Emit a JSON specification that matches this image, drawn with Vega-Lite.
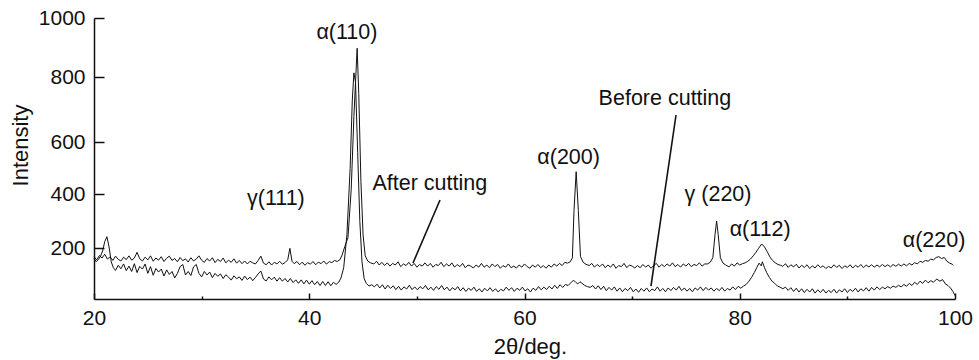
{
  "$schema": "https://vega.github.io/schema/vega-lite/v6.json",
  "width": 861,
  "height": 281,
  "autosize": "none",
  "padding": {"left": 94, "top": 18, "right": 24, "bottom": 61},
  "background": "white",
  "config": {
    "view": {"stroke": null},
    "font": "Liberation Sans",
    "axis": {
      "grid": false,
      "domainColor": "#111",
      "domainWidth": 1.5,
      "tickColor": "#111",
      "tickWidth": 1.5,
      "labelColor": "#111",
      "labelFont": "Liberation Sans",
      "labelFontSize": 21,
      "titleColor": "#111",
      "titleFont": "Liberation Sans",
      "titleFontSize": 22,
      "titleFontWeight": "normal"
    }
  },
  "encoding": {
    "x": {
      "field": "x",
      "type": "quantitative",
      "scale": {"domain": [20, 100], "nice": false, "zero": false},
      "axis": {
        "title": "2θ/deg.",
        "values": [20, 30, 40, 50, 60, 70, 80, 90, 100],
        "labelExpr": "datum.value % 20 === 0 ? datum.label : ''",
        "tickSize": {"condition": {"test": "datum.value % 20 === 0", "value": -6}, "value": -3},
        "labelPadding": 14,
        "labelFlush": false,
        "titleX": 436,
        "titleY": 37,
        "titleBaseline": "top"
      }
    },
    "y": {
      "field": "y",
      "type": "quantitative",
      "scale": {"domain": [12, 200, 400, 600, 800, 1000], "range": [281, 230.3, 176.3, 124.3, 59.3, 0], "nice": false, "zero": false},
      "axis": {
        "title": "Intensity",
        "values": [200, 400, 600, 800, 1000],
        "format": "d",
        "tickSize": -10,
        "labelPadding": 19,
        "titleAngle": 270,
        "titleBaseline": "alphabetic",
        "titleX": -67,
        "titleY": 127
      }
    }
  },
  "layer": [
    {
      "data": {"values": [
        {"s":"A","x":20,"y":169},{"s":"A","x":20.25,"y":157},{"s":"A","x":20.5,"y":173},{"s":"A","x":20.75,"y":164},{"s":"A","x":21,"y":178},{"s":"A","x":21.25,"y":160},{"s":"A","x":21.5,"y":168},{"s":"A","x":21.75,"y":155},{"s":"A","x":22,"y":171},{"s":"A","x":22.25,"y":159},{"s":"A","x":22.5,"y":153},{"s":"A","x":22.75,"y":167},{"s":"A","x":23,"y":158},{"s":"A","x":23.25,"y":172},{"s":"A","x":23.5,"y":156},{"s":"A","x":23.75,"y":164},{"s":"A","x":24,"y":185},{"s":"A","x":24.25,"y":161},{"s":"A","x":24.5,"y":153},{"s":"A","x":24.75,"y":167},{"s":"A","x":25,"y":157},{"s":"A","x":25.25,"y":172},{"s":"A","x":25.5,"y":152},{"s":"A","x":25.75,"y":164},{"s":"A","x":26,"y":156},{"s":"A","x":26.25,"y":169},{"s":"A","x":26.5,"y":151},{"s":"A","x":26.75,"y":163},{"s":"A","x":27,"y":171},{"s":"A","x":27.25,"y":155},{"s":"A","x":27.5,"y":162},{"s":"A","x":27.75,"y":150},{"s":"A","x":28,"y":166},{"s":"A","x":28.25,"y":154},{"s":"A","x":28.5,"y":161},{"s":"A","x":28.75,"y":149},{"s":"A","x":29,"y":165},{"s":"A","x":29.25,"y":153},{"s":"A","x":29.5,"y":160},{"s":"A","x":29.75,"y":172},{"s":"A","x":30,"y":156},{"s":"A","x":30.25,"y":148},{"s":"A","x":30.5,"y":162},{"s":"A","x":30.75,"y":153},{"s":"A","x":31,"y":165},{"s":"A","x":31.25,"y":147},{"s":"A","x":31.5,"y":159},{"s":"A","x":31.75,"y":151},{"s":"A","x":32,"y":164},{"s":"A","x":32.25,"y":146},{"s":"A","x":32.5,"y":156},{"s":"A","x":32.75,"y":148},{"s":"A","x":33,"y":161},{"s":"A","x":33.25,"y":145},{"s":"A","x":33.5,"y":155},{"s":"A","x":33.75,"y":143},{"s":"A","x":34,"y":153},{"s":"A","x":34.25,"y":142},{"s":"A","x":34.5,"y":152},{"s":"A","x":34.75,"y":146},{"s":"A","x":35,"y":142},{"s":"A","x":35.25,"y":155},{"s":"A","x":35.5,"y":171},{"s":"A","x":35.75,"y":145},{"s":"A","x":36,"y":139},{"s":"A","x":36.25,"y":150},{"s":"A","x":36.5,"y":138},{"s":"A","x":36.75,"y":148},{"s":"A","x":37,"y":142},{"s":"A","x":37.25,"y":152},{"s":"A","x":37.5,"y":141},{"s":"A","x":37.75,"y":147},{"s":"A","x":38,"y":157},{"s":"A","x":38.2,"y":200},{"s":"A","x":38.4,"y":152},{"s":"A","x":38.6,"y":143},{"s":"A","x":38.85,"y":151},{"s":"A","x":39.1,"y":139},{"s":"A","x":39.35,"y":149},{"s":"A","x":39.6,"y":137},{"s":"A","x":39.85,"y":147},{"s":"A","x":40.1,"y":141},{"s":"A","x":40.35,"y":151},{"s":"A","x":40.6,"y":139},{"s":"A","x":40.85,"y":149},{"s":"A","x":41.1,"y":143},{"s":"A","x":41.35,"y":153},{"s":"A","x":41.6,"y":141},{"s":"A","x":41.85,"y":151},{"s":"A","x":42.1,"y":147},{"s":"A","x":42.35,"y":155},{"s":"A","x":42.6,"y":151},{"s":"A","x":42.85,"y":158},{"s":"A","x":43.05,"y":175},{"s":"A","x":43.3,"y":206},{"s":"A","x":43.6,"y":240},{"s":"A","x":43.9,"y":420},{"s":"A","x":44.15,"y":680},{"s":"A","x":44.45,"y":898},{"s":"A","x":44.6,"y":750},{"s":"A","x":44.8,"y":450},{"s":"A","x":45,"y":250},{"s":"A","x":45.2,"y":172},{"s":"A","x":45.45,"y":152},{"s":"A","x":45.7,"y":146},{"s":"A","x":46,"y":142},{"s":"A","x":46.25,"y":152},{"s":"A","x":46.5,"y":138},{"s":"A","x":46.75,"y":148},{"s":"A","x":47,"y":136},{"s":"A","x":47.25,"y":146},{"s":"A","x":47.5,"y":134},{"s":"A","x":47.75,"y":144},{"s":"A","x":48,"y":138},{"s":"A","x":48.25,"y":150},{"s":"A","x":48.5,"y":132},{"s":"A","x":48.75,"y":142},{"s":"A","x":49,"y":136},{"s":"A","x":49.25,"y":148},{"s":"A","x":49.5,"y":134},{"s":"A","x":49.75,"y":144},{"s":"A","x":50,"y":130},{"s":"A","x":50.25,"y":140},{"s":"A","x":50.5,"y":134},{"s":"A","x":50.75,"y":146},{"s":"A","x":51,"y":134},{"s":"A","x":51.25,"y":144},{"s":"A","x":51.5,"y":130},{"s":"A","x":51.75,"y":140},{"s":"A","x":52,"y":136},{"s":"A","x":52.25,"y":148},{"s":"A","x":52.5,"y":132},{"s":"A","x":52.75,"y":142},{"s":"A","x":53,"y":134},{"s":"A","x":53.25,"y":146},{"s":"A","x":53.5,"y":130},{"s":"A","x":53.75,"y":140},{"s":"A","x":54,"y":132},{"s":"A","x":54.25,"y":144},{"s":"A","x":54.5,"y":128},{"s":"A","x":54.75,"y":138},{"s":"A","x":55,"y":134},{"s":"A","x":55.25,"y":127},{"s":"A","x":55.5,"y":138},{"s":"A","x":55.75,"y":130},{"s":"A","x":56,"y":144},{"s":"A","x":56.25,"y":130},{"s":"A","x":56.5,"y":138},{"s":"A","x":56.75,"y":128},{"s":"A","x":57,"y":142},{"s":"A","x":57.25,"y":132},{"s":"A","x":57.5,"y":140},{"s":"A","x":57.75,"y":126},{"s":"A","x":58,"y":136},{"s":"A","x":58.25,"y":130},{"s":"A","x":58.5,"y":142},{"s":"A","x":58.75,"y":128},{"s":"A","x":59,"y":134},{"s":"A","x":59.25,"y":127},{"s":"A","x":59.5,"y":138},{"s":"A","x":59.75,"y":130},{"s":"A","x":60,"y":142},{"s":"A","x":60.25,"y":132},{"s":"A","x":60.5,"y":126},{"s":"A","x":60.75,"y":138},{"s":"A","x":61,"y":130},{"s":"A","x":61.25,"y":140},{"s":"A","x":61.5,"y":128},{"s":"A","x":61.75,"y":136},{"s":"A","x":62,"y":126},{"s":"A","x":62.25,"y":138},{"s":"A","x":62.5,"y":130},{"s":"A","x":62.75,"y":142},{"s":"A","x":63,"y":134},{"s":"A","x":63.25,"y":144},{"s":"A","x":63.5,"y":136},{"s":"A","x":63.75,"y":148},{"s":"A","x":64,"y":145},{"s":"A","x":64.25,"y":150},{"s":"A","x":64.45,"y":165},{"s":"A","x":64.6,"y":340},{"s":"A","x":64.8,"y":487},{"s":"A","x":65,"y":340},{"s":"A","x":65.2,"y":170},{"s":"A","x":65.45,"y":148},{"s":"A","x":65.7,"y":141},{"s":"A","x":66,"y":136},{"s":"A","x":66.25,"y":144},{"s":"A","x":66.5,"y":130},{"s":"A","x":66.75,"y":140},{"s":"A","x":67,"y":132},{"s":"A","x":67.25,"y":142},{"s":"A","x":67.5,"y":128},{"s":"A","x":67.75,"y":138},{"s":"A","x":68,"y":130},{"s":"A","x":68.25,"y":142},{"s":"A","x":68.5,"y":126},{"s":"A","x":68.75,"y":136},{"s":"A","x":69,"y":132},{"s":"A","x":69.25,"y":144},{"s":"A","x":69.5,"y":128},{"s":"A","x":69.75,"y":138},{"s":"A","x":70,"y":134},{"s":"A","x":70.25,"y":127},{"s":"A","x":70.5,"y":136},{"s":"A","x":70.75,"y":128},{"s":"A","x":71,"y":140},{"s":"A","x":71.25,"y":130},{"s":"A","x":71.5,"y":138},{"s":"A","x":71.75,"y":126},{"s":"A","x":72,"y":136},{"s":"A","x":72.25,"y":144},{"s":"A","x":72.5,"y":130},{"s":"A","x":72.75,"y":140},{"s":"A","x":73,"y":132},{"s":"A","x":73.25,"y":142},{"s":"A","x":73.5,"y":134},{"s":"A","x":73.75,"y":146},{"s":"A","x":74,"y":132},{"s":"A","x":74.25,"y":140},{"s":"A","x":74.5,"y":130},{"s":"A","x":74.75,"y":142},{"s":"A","x":75,"y":134},{"s":"A","x":75.25,"y":144},{"s":"A","x":75.5,"y":132},{"s":"A","x":75.75,"y":140},{"s":"A","x":76,"y":136},{"s":"A","x":76.25,"y":146},{"s":"A","x":76.5,"y":134},{"s":"A","x":76.75,"y":142},{"s":"A","x":77,"y":142},{"s":"A","x":77.25,"y":148},{"s":"A","x":77.5,"y":165},{"s":"A","x":77.7,"y":250},{"s":"A","x":77.85,"y":301},{"s":"A","x":78,"y":250},{"s":"A","x":78.2,"y":165},{"s":"A","x":78.45,"y":145},{"s":"A","x":78.7,"y":138},{"s":"A","x":79,"y":131},{"s":"A","x":79.25,"y":142},{"s":"A","x":79.5,"y":134},{"s":"A","x":79.75,"y":146},{"s":"A","x":80,"y":138},{"s":"A","x":80.25,"y":143},{"s":"A","x":80.5,"y":146},{"s":"A","x":80.75,"y":152},{"s":"A","x":81,"y":160},{"s":"A","x":81.25,"y":172},{"s":"A","x":81.5,"y":185},{"s":"A","x":81.75,"y":200},{"s":"A","x":82.04,"y":216},{"s":"A","x":82.3,"y":205},{"s":"A","x":82.55,"y":188},{"s":"A","x":82.8,"y":168},{"s":"A","x":83.05,"y":155},{"s":"A","x":83.3,"y":146},{"s":"A","x":83.55,"y":140},{"s":"A","x":83.8,"y":137},{"s":"A","x":84,"y":133},{"s":"A","x":84.25,"y":143},{"s":"A","x":84.5,"y":129},{"s":"A","x":84.75,"y":139},{"s":"A","x":85,"y":131},{"s":"A","x":85.25,"y":141},{"s":"A","x":85.5,"y":127},{"s":"A","x":85.75,"y":137},{"s":"A","x":86,"y":129},{"s":"A","x":86.25,"y":139},{"s":"A","x":86.5,"y":125},{"s":"A","x":86.75,"y":135},{"s":"A","x":87,"y":127},{"s":"A","x":87.25,"y":139},{"s":"A","x":87.5,"y":129},{"s":"A","x":87.75,"y":135},{"s":"A","x":88,"y":125},{"s":"A","x":88.25,"y":133},{"s":"A","x":88.5,"y":127},{"s":"A","x":88.75,"y":139},{"s":"A","x":89,"y":129},{"s":"A","x":89.25,"y":137},{"s":"A","x":89.5,"y":125},{"s":"A","x":89.75,"y":135},{"s":"A","x":90,"y":129},{"s":"A","x":90.25,"y":139},{"s":"A","x":90.5,"y":127},{"s":"A","x":90.75,"y":137},{"s":"A","x":91,"y":130},{"s":"A","x":91.25,"y":140},{"s":"A","x":91.5,"y":128},{"s":"A","x":91.75,"y":138},{"s":"A","x":92,"y":131},{"s":"A","x":92.25,"y":139},{"s":"A","x":92.5,"y":130},{"s":"A","x":92.75,"y":138},{"s":"A","x":93,"y":131},{"s":"A","x":93.25,"y":140},{"s":"A","x":93.5,"y":132},{"s":"A","x":93.75,"y":139},{"s":"A","x":94,"y":131},{"s":"A","x":94.25,"y":140},{"s":"A","x":94.5,"y":133},{"s":"A","x":94.75,"y":141},{"s":"A","x":95,"y":134},{"s":"A","x":95.25,"y":142},{"s":"A","x":95.5,"y":135},{"s":"A","x":95.75,"y":144},{"s":"A","x":96,"y":138},{"s":"A","x":96.25,"y":147},{"s":"A","x":96.5,"y":142},{"s":"A","x":96.75,"y":152},{"s":"A","x":97,"y":148},{"s":"A","x":97.25,"y":155},{"s":"A","x":97.5,"y":152},{"s":"A","x":97.75,"y":160},{"s":"A","x":98,"y":157},{"s":"A","x":98.25,"y":166},{"s":"A","x":98.5,"y":169},{"s":"A","x":98.75,"y":162},{"s":"A","x":99,"y":166},{"s":"A","x":99.25,"y":152},{"s":"A","x":99.5,"y":145},{"s":"A","x":99.75,"y":141},{"s":"A","x":99.85,"y":137},
        {"s":"B","x":20,"y":163},{"s":"B","x":20.2,"y":150},{"s":"B","x":20.4,"y":158},{"s":"B","x":20.6,"y":170},{"s":"B","x":20.8,"y":190},{"s":"B","x":21,"y":225},{"s":"B","x":21.2,"y":243},{"s":"B","x":21.4,"y":205},{"s":"B","x":21.6,"y":150},{"s":"B","x":21.8,"y":128},{"s":"B","x":22,"y":118},{"s":"B","x":22.25,"y":137},{"s":"B","x":22.5,"y":124},{"s":"B","x":22.75,"y":142},{"s":"B","x":23,"y":117},{"s":"B","x":23.25,"y":134},{"s":"B","x":23.5,"y":114},{"s":"B","x":23.75,"y":143},{"s":"B","x":24,"y":110},{"s":"B","x":24.25,"y":133},{"s":"B","x":24.5,"y":123},{"s":"B","x":24.75,"y":142},{"s":"B","x":25,"y":107},{"s":"B","x":25.25,"y":132},{"s":"B","x":25.5,"y":100},{"s":"B","x":25.75,"y":125},{"s":"B","x":26,"y":112},{"s":"B","x":26.25,"y":123},{"s":"B","x":26.5,"y":97},{"s":"B","x":26.75,"y":120},{"s":"B","x":27,"y":103},{"s":"B","x":27.25,"y":114},{"s":"B","x":27.5,"y":90},{"s":"B","x":27.75,"y":107},{"s":"B","x":28,"y":132},{"s":"B","x":28.25,"y":140},{"s":"B","x":28.5,"y":101},{"s":"B","x":28.75,"y":114},{"s":"B","x":29,"y":99},{"s":"B","x":29.25,"y":131},{"s":"B","x":29.5,"y":140},{"s":"B","x":29.75,"y":107},{"s":"B","x":30,"y":94},{"s":"B","x":30.25,"y":114},{"s":"B","x":30.5,"y":101},{"s":"B","x":30.75,"y":112},{"s":"B","x":31,"y":91},{"s":"B","x":31.25,"y":107},{"s":"B","x":31.5,"y":96},{"s":"B","x":31.75,"y":105},{"s":"B","x":32,"y":88},{"s":"B","x":32.25,"y":102},{"s":"B","x":32.5,"y":93},{"s":"B","x":32.75,"y":82},{"s":"B","x":33,"y":98},{"s":"B","x":33.25,"y":87},{"s":"B","x":33.5,"y":94},{"s":"B","x":33.75,"y":81},{"s":"B","x":34,"y":97},{"s":"B","x":34.25,"y":84},{"s":"B","x":34.5,"y":93},{"s":"B","x":34.75,"y":80},{"s":"B","x":35,"y":92},{"s":"B","x":35.25,"y":105},{"s":"B","x":35.5,"y":116},{"s":"B","x":35.75,"y":86},{"s":"B","x":36,"y":79},{"s":"B","x":36.25,"y":94},{"s":"B","x":36.5,"y":83},{"s":"B","x":36.75,"y":93},{"s":"B","x":37,"y":78},{"s":"B","x":37.25,"y":91},{"s":"B","x":37.5,"y":78},{"s":"B","x":37.75,"y":88},{"s":"B","x":38,"y":75},{"s":"B","x":38.25,"y":88},{"s":"B","x":38.5,"y":73},{"s":"B","x":38.75,"y":83},{"s":"B","x":39,"y":70},{"s":"B","x":39.25,"y":83},{"s":"B","x":39.5,"y":68},{"s":"B","x":39.75,"y":82},{"s":"B","x":40,"y":67},{"s":"B","x":40.25,"y":80},{"s":"B","x":40.5,"y":65},{"s":"B","x":40.75,"y":77},{"s":"B","x":41,"y":62},{"s":"B","x":41.25,"y":77},{"s":"B","x":41.5,"y":62},{"s":"B","x":41.75,"y":76},{"s":"B","x":42,"y":61},{"s":"B","x":42.25,"y":74},{"s":"B","x":42.5,"y":66},{"s":"B","x":42.75,"y":75},{"s":"B","x":42.95,"y":90},{"s":"B","x":43.2,"y":128},{"s":"B","x":43.5,"y":250},{"s":"B","x":43.8,"y":500},{"s":"B","x":44,"y":730},{"s":"B","x":44.15,"y":815},{"s":"B","x":44.3,"y":785},{"s":"B","x":44.5,"y":560},{"s":"B","x":44.7,"y":300},{"s":"B","x":44.9,"y":150},{"s":"B","x":45.1,"y":88},{"s":"B","x":45.3,"y":70},{"s":"B","x":45.55,"y":60},{"s":"B","x":45.8,"y":65},{"s":"B","x":46.05,"y":57},{"s":"B","x":46.3,"y":67},{"s":"B","x":46.55,"y":53},{"s":"B","x":46.8,"y":65},{"s":"B","x":47.05,"y":49},{"s":"B","x":47.3,"y":63},{"s":"B","x":47.55,"y":51},{"s":"B","x":47.8,"y":61},{"s":"B","x":48.05,"y":47},{"s":"B","x":48.3,"y":59},{"s":"B","x":48.55,"y":45},{"s":"B","x":48.8,"y":57},{"s":"B","x":49.05,"y":49},{"s":"B","x":49.3,"y":63},{"s":"B","x":49.55,"y":47},{"s":"B","x":49.8,"y":57},{"s":"B","x":50.05,"y":46},{"s":"B","x":50.3,"y":58},{"s":"B","x":50.55,"y":50},{"s":"B","x":50.8,"y":62},{"s":"B","x":51.05,"y":46},{"s":"B","x":51.3,"y":56},{"s":"B","x":51.55,"y":44},{"s":"B","x":51.8,"y":58},{"s":"B","x":52.05,"y":48},{"s":"B","x":52.3,"y":62},{"s":"B","x":52.55,"y":46},{"s":"B","x":52.8,"y":56},{"s":"B","x":53.05,"y":42},{"s":"B","x":53.3,"y":54},{"s":"B","x":53.55,"y":46},{"s":"B","x":53.8,"y":58},{"s":"B","x":54.05,"y":42},{"s":"B","x":54.3,"y":54},{"s":"B","x":54.55,"y":40},{"s":"B","x":54.8,"y":52},{"s":"B","x":55.05,"y":44},{"s":"B","x":55.3,"y":56},{"s":"B","x":55.55,"y":40},{"s":"B","x":55.8,"y":50},{"s":"B","x":56.05,"y":38},{"s":"B","x":56.3,"y":52},{"s":"B","x":56.55,"y":42},{"s":"B","x":56.8,"y":54},{"s":"B","x":57.05,"y":40},{"s":"B","x":57.3,"y":50},{"s":"B","x":57.55,"y":38},{"s":"B","x":57.8,"y":48},{"s":"B","x":58.05,"y":42},{"s":"B","x":58.3,"y":56},{"s":"B","x":58.55,"y":44},{"s":"B","x":58.8,"y":54},{"s":"B","x":59.05,"y":40},{"s":"B","x":59.3,"y":52},{"s":"B","x":59.55,"y":44},{"s":"B","x":59.8,"y":56},{"s":"B","x":60.05,"y":42},{"s":"B","x":60.3,"y":50},{"s":"B","x":60.55,"y":38},{"s":"B","x":60.8,"y":52},{"s":"B","x":61.05,"y":44},{"s":"B","x":61.3,"y":58},{"s":"B","x":61.55,"y":46},{"s":"B","x":61.8,"y":56},{"s":"B","x":62.05,"y":47},{"s":"B","x":62.3,"y":59},{"s":"B","x":62.55,"y":49},{"s":"B","x":62.8,"y":63},{"s":"B","x":63.05,"y":51},{"s":"B","x":63.3,"y":65},{"s":"B","x":63.55,"y":55},{"s":"B","x":63.8,"y":66},{"s":"B","x":64.05,"y":62},{"s":"B","x":64.3,"y":72},{"s":"B","x":64.55,"y":82},{"s":"B","x":64.75,"y":74},{"s":"B","x":64.95,"y":68},{"s":"B","x":65.15,"y":76},{"s":"B","x":65.35,"y":70},{"s":"B","x":65.6,"y":62},{"s":"B","x":65.85,"y":58},{"s":"B","x":66.1,"y":55},{"s":"B","x":66.35,"y":62},{"s":"B","x":66.6,"y":49},{"s":"B","x":66.85,"y":61},{"s":"B","x":67.1,"y":47},{"s":"B","x":67.35,"y":59},{"s":"B","x":67.6,"y":43},{"s":"B","x":67.85,"y":55},{"s":"B","x":68.1,"y":45},{"s":"B","x":68.35,"y":57},{"s":"B","x":68.6,"y":41},{"s":"B","x":68.85,"y":53},{"s":"B","x":69.1,"y":39},{"s":"B","x":69.35,"y":51},{"s":"B","x":69.6,"y":43},{"s":"B","x":69.85,"y":55},{"s":"B","x":70.1,"y":39},{"s":"B","x":70.35,"y":49},{"s":"B","x":70.6,"y":37},{"s":"B","x":70.85,"y":51},{"s":"B","x":71.1,"y":41},{"s":"B","x":71.35,"y":53},{"s":"B","x":71.6,"y":39},{"s":"B","x":71.85,"y":49},{"s":"B","x":72.1,"y":43},{"s":"B","x":72.35,"y":57},{"s":"B","x":72.6,"y":41},{"s":"B","x":72.85,"y":51},{"s":"B","x":73.1,"y":39},{"s":"B","x":73.35,"y":53},{"s":"B","x":73.6,"y":43},{"s":"B","x":73.85,"y":55},{"s":"B","x":74.1,"y":45},{"s":"B","x":74.35,"y":59},{"s":"B","x":74.6,"y":43},{"s":"B","x":74.85,"y":53},{"s":"B","x":75.1,"y":41},{"s":"B","x":75.35,"y":51},{"s":"B","x":75.6,"y":39},{"s":"B","x":75.85,"y":53},{"s":"B","x":76.1,"y":45},{"s":"B","x":76.35,"y":57},{"s":"B","x":76.6,"y":43},{"s":"B","x":76.85,"y":55},{"s":"B","x":77.1,"y":45},{"s":"B","x":77.35,"y":53},{"s":"B","x":77.6,"y":41},{"s":"B","x":77.85,"y":51},{"s":"B","x":78.1,"y":43},{"s":"B","x":78.35,"y":55},{"s":"B","x":78.6,"y":41},{"s":"B","x":78.85,"y":51},{"s":"B","x":79.1,"y":45},{"s":"B","x":79.35,"y":57},{"s":"B","x":79.6,"y":47},{"s":"B","x":79.85,"y":59},{"s":"B","x":80.1,"y":52},{"s":"B","x":80.35,"y":60},{"s":"B","x":80.6,"y":66},{"s":"B","x":80.85,"y":78},{"s":"B","x":81.1,"y":92},{"s":"B","x":81.35,"y":110},{"s":"B","x":81.6,"y":130},{"s":"B","x":81.8,"y":145},{"s":"B","x":82,"y":135},{"s":"B","x":82.1,"y":150},{"s":"B","x":82.3,"y":128},{"s":"B","x":82.5,"y":110},{"s":"B","x":82.75,"y":92},{"s":"B","x":83,"y":78},{"s":"B","x":83.25,"y":70},{"s":"B","x":83.5,"y":60},{"s":"B","x":83.75,"y":56},{"s":"B","x":84,"y":50},{"s":"B","x":84.25,"y":56},{"s":"B","x":84.5,"y":44},{"s":"B","x":84.75,"y":54},{"s":"B","x":85,"y":40},{"s":"B","x":85.25,"y":52},{"s":"B","x":85.5,"y":38},{"s":"B","x":85.75,"y":50},{"s":"B","x":86,"y":36},{"s":"B","x":86.25,"y":48},{"s":"B","x":86.5,"y":38},{"s":"B","x":86.75,"y":50},{"s":"B","x":87,"y":34},{"s":"B","x":87.25,"y":46},{"s":"B","x":87.5,"y":36},{"s":"B","x":87.75,"y":48},{"s":"B","x":88,"y":34},{"s":"B","x":88.25,"y":44},{"s":"B","x":88.5,"y":36},{"s":"B","x":88.75,"y":48},{"s":"B","x":89,"y":34},{"s":"B","x":89.25,"y":46},{"s":"B","x":89.5,"y":38},{"s":"B","x":89.75,"y":50},{"s":"B","x":90,"y":36},{"s":"B","x":90.25,"y":48},{"s":"B","x":90.5,"y":40},{"s":"B","x":90.75,"y":52},{"s":"B","x":91,"y":38},{"s":"B","x":91.25,"y":50},{"s":"B","x":91.5,"y":42},{"s":"B","x":91.75,"y":54},{"s":"B","x":92,"y":41},{"s":"B","x":92.25,"y":55},{"s":"B","x":92.5,"y":45},{"s":"B","x":92.75,"y":57},{"s":"B","x":93,"y":47},{"s":"B","x":93.25,"y":56},{"s":"B","x":93.5,"y":50},{"s":"B","x":93.75,"y":58},{"s":"B","x":94,"y":52},{"s":"B","x":94.25,"y":60},{"s":"B","x":94.5,"y":55},{"s":"B","x":94.75,"y":63},{"s":"B","x":95,"y":57},{"s":"B","x":95.25,"y":66},{"s":"B","x":95.5,"y":59},{"s":"B","x":95.75,"y":70},{"s":"B","x":96,"y":62},{"s":"B","x":96.25,"y":74},{"s":"B","x":96.5,"y":66},{"s":"B","x":96.75,"y":78},{"s":"B","x":97,"y":70},{"s":"B","x":97.25,"y":82},{"s":"B","x":97.5,"y":72},{"s":"B","x":97.75,"y":80},{"s":"B","x":98,"y":74},{"s":"B","x":98.3,"y":86},{"s":"B","x":98.6,"y":78},{"s":"B","x":98.85,"y":84},{"s":"B","x":99.1,"y":68},{"s":"B","x":99.35,"y":62},{"s":"B","x":99.6,"y":52},{"s":"B","x":99.8,"y":40},{"s":"B","x":100,"y":25}
      ]},
      "mark": {"type": "line", "stroke": "#111", "strokeWidth": 1, "interpolate": "linear"},
      "encoding": {"detail": {"field": "s", "type": "nominal"}}
    },
    {
      "data": {"values": [
        {"x": 52.15, "y": 379, "x2": 49.64, "y2": 145.5},
        {"x": 74.08, "y": 684, "x2": 71.75, "y2": 60}
      ]},
      "mark": {"type": "rule", "stroke": "#111", "strokeWidth": 1.6},
      "encoding": {
        "x2": {"field": "x2"},
        "y2": {"field": "y2"}
      }
    },
    {
      "data": {"values": [
        {"label": "α(110)", "x": 43.5, "y": 950},
        {"label": "γ(111)", "x": 36.9, "y": 383},
        {"label": "After cutting", "x": 51.2, "y": 440},
        {"label": "α(200)", "x": 64.1, "y": 540},
        {"label": "Before cutting", "x": 73.05, "y": 733},
        {"label": "γ (220)", "x": 77.98, "y": 397},
        {"label": "α(112)", "x": 81.9, "y": 268},
        {"label": "α(220)", "x": 98.05, "y": 227}
      ]},
      "mark": {"type": "text", "font": "Liberation Sans", "fontSize": 21.5, "fill": "#111", "align": "center", "baseline": "middle"},
      "encoding": {"text": {"field": "label", "type": "nominal"}}
    }
  ]
}
